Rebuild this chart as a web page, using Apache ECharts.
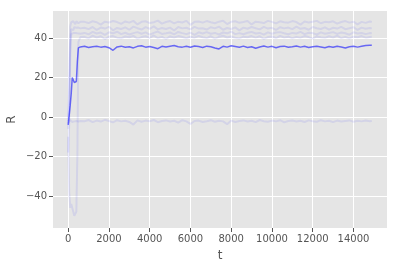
<!DOCTYPE html>
<html>
<head>
<meta charset="utf-8">
<script src="https://cdn.jsdelivr.net/npm/echarts@6/dist/echarts.min.js"></script>
<style>
  html, body { margin: 0; padding: 0; background: #fff; }
  #chart { width: 397px; height: 269px; }
</style>
</head>
<body>
<div id="chart"></div>
<script>
// time steps (t)
const tValues = [
  0, 50, 100, 150, 200, 250, 300, 350, 400, 450, 500, 600,
  800, 1000, 1200, 1400, 1600, 1800, 2000, 2200, 2400, 2600,
  2800, 3000, 3200, 3400, 3600, 3800, 4000, 4200, 4400, 4600,
  4800, 5000, 5200, 5400, 5600, 5800, 6000, 6200, 6400, 6600,
  6800, 7000, 7200, 7400, 7600, 7800, 8000, 8200, 8400, 8600,
  8800, 9000, 9200, 9400, 9600, 9800, 10000, 10200, 10400, 10600,
  10800, 11000, 11200, 11400, 11600, 11800, 12000, 12200, 12400, 12600,
  12800, 13000, 13200, 13400, 13600, 13800, 14000, 14200, 14400, 14600,
  14800, 14900
];

// mean reward (highlighted run)
const mainR = [
  -4, 1, 6, 12, 20, 19.5, 17.5, 16.5, 18, 28, 35, 35.5,
  35.8, 35.2, 35.6, 35.9, 35.4, 35.7, 35.1, 33.8, 35.5, 35.9,
  35.3, 35.6, 35.0, 35.8, 36.1, 35.4, 35.7, 35.2, 34.6, 35.8,
  35.5, 35.9, 36.2, 35.6, 35.4, 35.8, 35.3, 36.0, 35.7, 35.2,
  35.9, 35.6, 35.0, 34.5, 35.8, 35.4, 36.1, 35.7, 35.3, 35.9,
  35.2, 35.6, 34.8, 35.5, 36.0, 35.4, 35.8, 35.1, 35.7, 35.9,
  35.3, 35.6, 36.0, 35.4, 35.8, 35.2, 35.6, 35.9, 35.5, 35.1,
  35.7, 35.3, 35.8, 35.5, 35.0, 35.6, 35.9, 35.4, 35.8, 36.2,
  36.4, 36.3
];

// faint background runs
const run1 = [
  -2, 15, 46, 48, 47.5, 48.5, 48, 47, 48.5, 48, 47.5, 48.2,
  48.2, 47.6, 48.5, 48.0, 46.8, 48.3, 47.9, 48.6, 48.1, 47.2,
  48.4, 47.8, 48.7, 46.9, 48.2, 48.5, 47.6, 48.0, 48.8, 47.3,
  48.1, 48.6, 47.4, 48.3, 47.9, 48.7, 46.7, 48.2, 48.4, 47.8,
  48.6, 48.0, 47.5, 48.3, 48.8, 47.1, 48.2, 48.5, 47.7, 48.1,
  48.6, 46.9, 48.3, 48.0, 47.6, 48.7, 48.2, 47.4, 48.5, 48.0,
  47.8, 48.6, 48.1, 46.8, 48.4, 47.9, 48.3, 48.7, 47.5, 48.2,
  48.0, 48.5, 47.3, 48.1, 48.6, 47.8, 48.3, 46.9, 48.2, 47.7,
  48.4, 48.1
];
const run2 = [
  -6, 8, 38, 44.5, 45, 44, 45.5, 44.8, 45.2, 44.6, 45.3, 44.9,
  45.2, 44.5, 45.6, 44.1, 45.3, 44.8, 45.7, 43.9, 45.1, 44.6,
  45.4, 44.2, 45.8, 45.0, 44.3, 45.5, 44.7, 45.9, 44.4, 45.1,
  44.6, 45.3, 43.8, 45.6, 44.9, 45.2, 44.4, 45.7, 44.8, 45.0,
  44.3, 45.5, 44.9, 45.8, 44.2, 45.1, 44.6, 45.4, 43.9, 45.3,
  44.7, 45.6, 45.0, 44.4, 45.7, 44.8, 45.2, 44.1, 45.5, 44.9,
  45.3, 44.5, 45.8, 44.7, 45.1, 44.2, 45.6, 45.0, 44.6, 45.4,
  44.3, 45.2, 44.8, 45.7, 44.5, 45.0, 45.5, 44.1, 45.3, 44.7,
  45.1, 44.9
];
const run3 = [
  -18, -4, 30, 42, 43, 42.5, 41.8, 42.6, 43.1, 42.4, 42.8, 42.2,
  42.6, 41.9, 43.1, 42.3, 42.8, 41.6, 42.9, 42.4, 43.2, 42.0,
  42.7, 41.8, 42.5, 43.0, 42.2, 42.9, 41.7, 42.6, 43.3, 42.1,
  42.4, 42.8, 41.9, 43.1, 42.5, 42.0, 42.7, 41.6, 42.9, 42.3,
  43.0, 42.2, 42.6, 41.8, 42.8, 42.4, 43.2, 42.0, 42.5, 41.9,
  42.7, 43.1, 42.3, 42.6, 41.7, 42.9, 42.2, 42.8, 43.0, 42.4,
  41.9, 42.6, 42.3, 43.1, 42.0, 42.7, 42.5, 41.8, 42.9, 42.2,
  42.6, 43.0, 42.1, 42.8, 42.4, 41.7, 42.9, 42.3, 42.6, 42.0,
  42.5, 42.4
];
const run4 = [
  -10, -38, -46, -44, -45, -48, -50, -51, -48, -20, 38, 40.5,
  40.6, 39.8, 41.2, 40.3, 40.9, 39.5, 40.7, 41.0, 40.2, 39.9,
  40.8, 40.4, 41.1, 39.7, 40.5, 40.9, 40.1, 41.3, 40.0, 40.6,
  39.6, 40.8, 40.3, 41.0, 40.5, 39.9, 40.7, 40.2, 41.1, 40.4,
  40.0, 40.9, 39.7, 40.6, 41.2, 40.3, 40.8, 40.1, 39.8, 40.7,
  40.4, 41.0, 40.2, 40.9, 39.6, 40.5, 40.8, 40.0, 41.1, 40.3,
  40.7, 39.9, 40.6, 40.2, 41.0, 40.5, 39.7, 40.8, 40.4, 40.1,
  40.9, 40.3, 41.2, 40.0, 40.6, 39.8, 40.7, 40.4, 41.0, 40.2,
  40.5, 40.6
];
const run5 = [
  -3, -2.5, -1.5, -2, -2.5, -1.8, -2.2, -2.6, -2, -1.7, -2.3, -2,
  -2.1, -1.5, -2.6, -1.8, -2.3, -1.4, -2.0, -2.7, -1.6, -2.2,
  -1.9, -2.5, -3.8, -1.7, -2.4, -1.8, -2.1, -1.5, -2.6, -2.0,
  -1.7, -2.3, -1.9, -2.8, -1.6, -2.2, -3.5, -2.0, -1.8, -2.5,
  -2.1, -1.6, -2.4, -1.9, -2.2, -3.6, -1.8, -2.5, -2.0, -1.7,
  -2.3, -1.9, -2.6, -1.5, -2.1, -2.4, -1.8, -2.2, -1.6, -2.7,
  -2.0, -1.8, -2.3, -1.9, -2.5, -1.7, -2.1, -2.4, -1.6, -2.2,
  -1.9, -2.6, -1.8, -2.3, -2.0, -1.7, -2.4, -1.9, -2.2, -1.8,
  -2.1, -2.0
];

const xTicks = [0, 2000, 4000, 6000, 8000, 10000, 12000, 14000];
const yTicks = [-40, -20, 0, 20, 40];

function pairs(ys) {
  return tValues.map((t, i) => [t, ys[i]]);
}

function faint(ys) {
  return {
    type: "line",
    data: pairs(ys),
    showSymbol: false,
    lineStyle: { color: "rgba(0, 0, 255, 0.08)", width: 2 },
    z: 2
  };
}

const chart = echarts.init(document.getElementById("chart"));
chart.setOption({
  animation: false,
  grid: {
    left: 53, right: 10, top: 11, bottom: 41,
    containLabel: false,
    outerBoundsMode: "none",
    show: true, backgroundColor: "#E5E5E5", borderWidth: 0
  },
  xAxis: {
    type: "value",
    min: -745,
    max: 15645,
    name: "t",
    nameLocation: "middle",
    nameGap: 22,
    nameMoveOverlap: false,
    nameTextStyle: { color: "#555", fontSize: 12, fontFamily: "DejaVu Sans" },
    axisLine: { show: true, onZero: false, lineStyle: { color: "rgba(0,0,0,0)" } },
    axisTick: { show: true, customValues: xTicks, length: 4, lineStyle: { color: "#555", width: 1 } },
    axisLabel: {
      customValues: xTicks, color: "#555", fontSize: 10,
      fontFamily: "DejaVu Sans", margin: 6,
      formatter: v => String(v)
    },
    splitLine: { show: true, lineStyle: { color: "#fff", width: 1 } }
  },
  yAxis: {
    type: "value",
    min: -56.2,
    max: 53.7,
    name: "R",
    nameLocation: "middle",
    nameGap: 35,
    nameMoveOverlap: false,
    nameTextStyle: { color: "#555", fontSize: 12, fontFamily: "DejaVu Sans" },
    axisLine: { show: true, onZero: false, lineStyle: { color: "rgba(0,0,0,0)" } },
    axisTick: { show: true, customValues: yTicks, length: 4, lineStyle: { color: "#555", width: 1 } },
    axisLabel: {
      customValues: yTicks, color: "#555", fontSize: 10,
      fontFamily: "DejaVu Sans", margin: 6,
      formatter: v => (v < 0 ? "\u2212" + Math.abs(v) : String(v))
    },
    splitLine: { show: true, lineStyle: { color: "#fff", width: 1 } }
  },
  series: [
    faint(run1),
    faint(run2),
    faint(run3),
    faint(run4),
    faint(run5),
    {
      type: "line",
      data: pairs(mainR),
      showSymbol: false,
      lineStyle: { color: "rgba(0, 0, 255, 0.55)", width: 1.5 },
      z: 5
    }
  ]
});
</script>
</body>
</html>
